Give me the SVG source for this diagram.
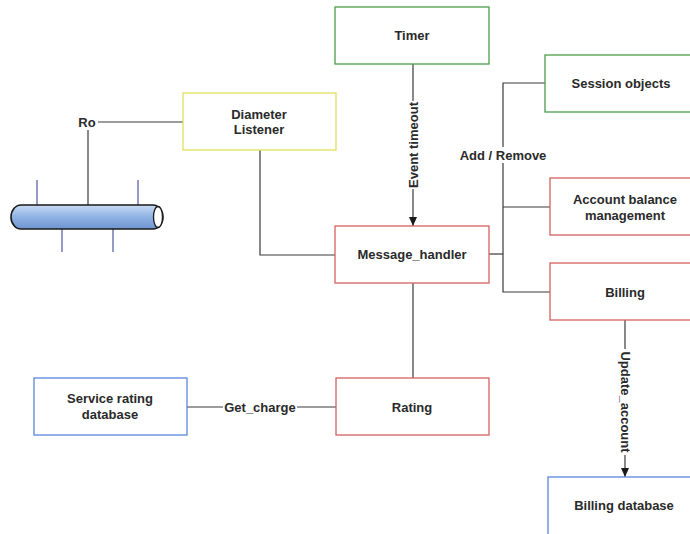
<svg xmlns="http://www.w3.org/2000/svg" width="690" height="534" viewBox="0 0 690 534">
  <style>
    .box { fill: #ffffff; stroke-width: 1.3; }
    .green { stroke: #4a9e4a; }
    .yellow { stroke: #e2e05a; }
    .red { stroke: #d46060; }
    .blue { stroke: #5a86dc; }
    .lbl { font-family: "Liberation Sans", Arial, sans-serif; font-size: 13px; font-weight: bold; fill: #2a2a2a; text-anchor: middle; dominant-baseline: central; }
    .wire { stroke: #3a3a3a; stroke-width: 1.2; fill: none; }
    .tick { stroke: #4a5aa0; stroke-width: 1.2; }
  </style>
  <defs>
    <marker id="arrow" markerWidth="10" markerHeight="10" refX="9" refY="5" orient="auto" markerUnits="userSpaceOnUse">
      <path d="M0,1 L9,5 L0,9 Z" fill="#1a1a1a"/>
    </marker>
    <linearGradient id="pipe" x1="0" y1="0" x2="0" y2="1">
      <stop offset="0" stop-color="#c8daf4"/>
      <stop offset="0.5" stop-color="#8fb2e4"/>
      <stop offset="1" stop-color="#6f94d0"/>
    </linearGradient>
  </defs>
  <rect width="690" height="534" fill="#ffffff"/>

  <g id="connectors">
    <!-- Ro link -->
    <line class="wire" x1="98" y1="122" x2="183" y2="122"/>
    <line class="wire" x1="88" y1="130" x2="88" y2="205"/>
    <!-- Diameter Listener to Message_handler -->
    <polyline class="wire" points="260,150 260,255 335,255"/>
    <!-- Timer to Message_handler -->
    <line class="wire" x1="413" y1="64" x2="413" y2="226" marker-end="url(#arrow)"/>
    <!-- Message_handler bus -->
    <line class="wire" x1="489" y1="254" x2="503" y2="254"/>
    <polyline class="wire" points="545,83 503,83 503,292 550,292"/>
    <line class="wire" x1="503" y1="207" x2="550" y2="207"/>
    <!-- Message_handler to Rating -->
    <line class="wire" x1="413" y1="283" x2="413" y2="378"/>
    <!-- Rating to Service rating database -->
    <line class="wire" x1="187" y1="407" x2="336" y2="407"/>
    <!-- Billing to Billing database -->
    <line class="wire" x1="625" y1="320" x2="625" y2="477" marker-end="url(#arrow)"/>

    <rect x="459" y="147" width="88" height="16" fill="#ffffff"/>
    <text class="lbl" x="503" y="155">Add / Remove</text>
    <rect x="223" y="399" width="74" height="16" fill="#ffffff"/>
    <text class="lbl" x="260" y="407">Get_charge</text>
    <rect x="405" y="101" width="16" height="88" fill="#ffffff"/>
    <text class="lbl" transform="translate(413,145) rotate(-90)">Event timeout</text>
    <rect x="617" y="349" width="16" height="106" fill="#ffffff"/>
    <text class="lbl" transform="translate(625,402) rotate(90)">Update_account</text>
    <text class="lbl" x="87" y="122">Ro</text>
  </g>

  <g id="bus">
    <line class="tick" x1="37" y1="180" x2="37" y2="205"/>
    <line class="tick" x1="138" y1="180" x2="138" y2="205"/>
    <line class="tick" x1="62" y1="228" x2="62" y2="252"/>
    <line class="tick" x1="113" y1="228" x2="113" y2="252"/>
    <rect x="11" y="205" width="152" height="24" rx="10" ry="12" fill="url(#pipe)" stroke="#1a1a1a" stroke-width="1.6"/>
    <ellipse cx="158" cy="217" rx="4.5" ry="10.5" fill="#ffffff" stroke="#1a1a1a" stroke-width="1.3"/>
  </g>

  <g id="timer">
    <rect class="box green" x="335" y="7" width="154" height="57"/>
    <text class="lbl" x="412" y="35">Timer</text>
  </g>
  <g id="diameter-listener">
    <rect class="box yellow" x="183" y="93" width="153" height="57"/>
    <text class="lbl" x="259" y="114">Diameter</text>
    <text class="lbl" x="259" y="129">Listener</text>
  </g>
  <g id="message-handler">
    <rect class="box red" x="335" y="226" width="154" height="57"/>
    <text class="lbl" x="412" y="254">Message_handler</text>
  </g>
  <g id="session-objects">
    <rect class="box green" x="545" y="55" width="150" height="57"/>
    <text class="lbl" x="621" y="83">Session objects</text>
  </g>
  <g id="account-balance">
    <rect class="box red" x="550" y="178" width="145" height="57"/>
    <text class="lbl" x="625" y="199">Account balance</text>
    <text class="lbl" x="625" y="215">management</text>
  </g>
  <g id="billing">
    <rect class="box red" x="550" y="263" width="145" height="57"/>
    <text class="lbl" x="625" y="292">Billing</text>
  </g>
  <g id="rating">
    <rect class="box red" x="336" y="378" width="153" height="57"/>
    <text class="lbl" x="412" y="407">Rating</text>
  </g>
  <g id="service-rating-db">
    <rect class="box blue" x="34" y="378" width="153" height="57"/>
    <text class="lbl" x="110" y="398">Service rating</text>
    <text class="lbl" x="110" y="414">database</text>
  </g>
  <g id="billing-db">
    <rect class="box blue" x="548" y="477" width="150" height="60"/>
    <text class="lbl" x="624" y="505">Billing database</text>
  </g>
</svg>
